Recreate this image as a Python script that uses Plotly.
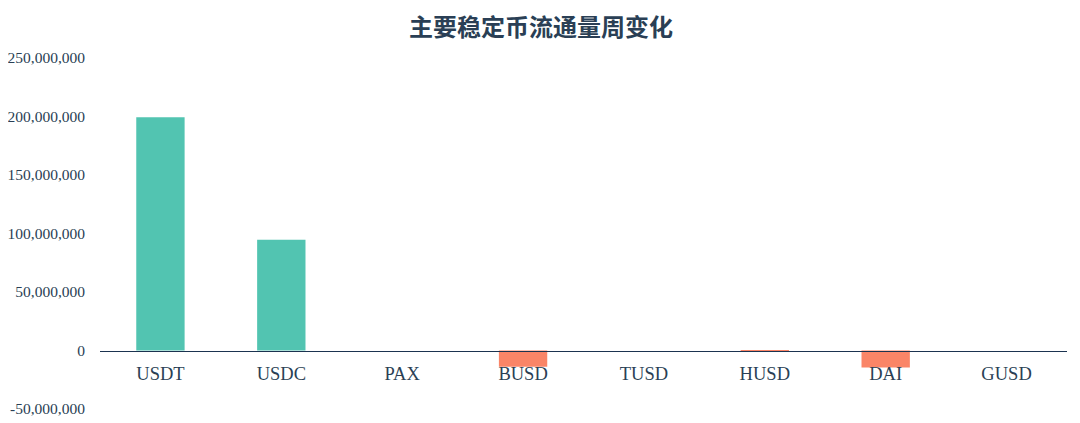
import plotly.graph_objects as go

categories = ["USDT", "USDC", "PAX", "BUSD", "TUSD", "HUSD", "DAI", "GUSD"]
changes = [199400000, 94700000, 0, -13800000, 0, -1000000, -14500000, 0]
tick_vals = [-50000000, 0, 50000000, 100000000, 150000000, 200000000, 250000000]
tick_text = ["-50,000,000", "0", "50,000,000", "100,000,000", "150,000,000", "200,000,000", "250,000,000"]

pos_color = "#52c4b1"
neg_color = "#fa8567"
text_color = "#2a3f55"

colors = [pos_color if v >= 0 else neg_color for v in changes]

fig = go.Figure()
fig.add_trace(go.Bar(x=categories, y=changes, marker=dict(color=colors, line=dict(width=0)),
                     hoverinfo="x+y"))

W, H = 1080, 423
ymin, ymax = -50000000, 250000000
fig.update_layout(
    width=W, height=H,
    margin=dict(l=92, r=21, t=50, b=22, autoexpand=False),
    paper_bgcolor="white", plot_bgcolor="white",
    bargap=0.6,
    showlegend=False,
    title=dict(text="<b>主要稳定币流通量周变化</b>", x=533 / W, xanchor="center", xref="container",
               y=1 - 20 / H, yanchor="middle", yref="container",
               font=dict(family="Noto Sans CJK SC", size=24, color=text_color)),
    font=dict(family="Liberation Serif", color=text_color),
    xaxis=dict(anchor="free", position=(0 - ymin) / (ymax - ymin), automargin=False,
               showline=True, linecolor="#1b3350", linewidth=1.4,
               showgrid=False, zeroline=False, ticks="",
               tickfont=dict(size=18.5, color=text_color, family="Liberation Serif"),
               ticklabelstandoff=6),
    yaxis=dict(range=[ymin, ymax], tickvals=tick_vals, ticktext=tick_text, automargin=False,
               showgrid=False, zeroline=False, showline=False, ticks="",
               tickfont=dict(size=15.5, color=text_color, family="Liberation Serif"),
               ticklabelstandoff=14),
)

fig.write_html("out.html")
